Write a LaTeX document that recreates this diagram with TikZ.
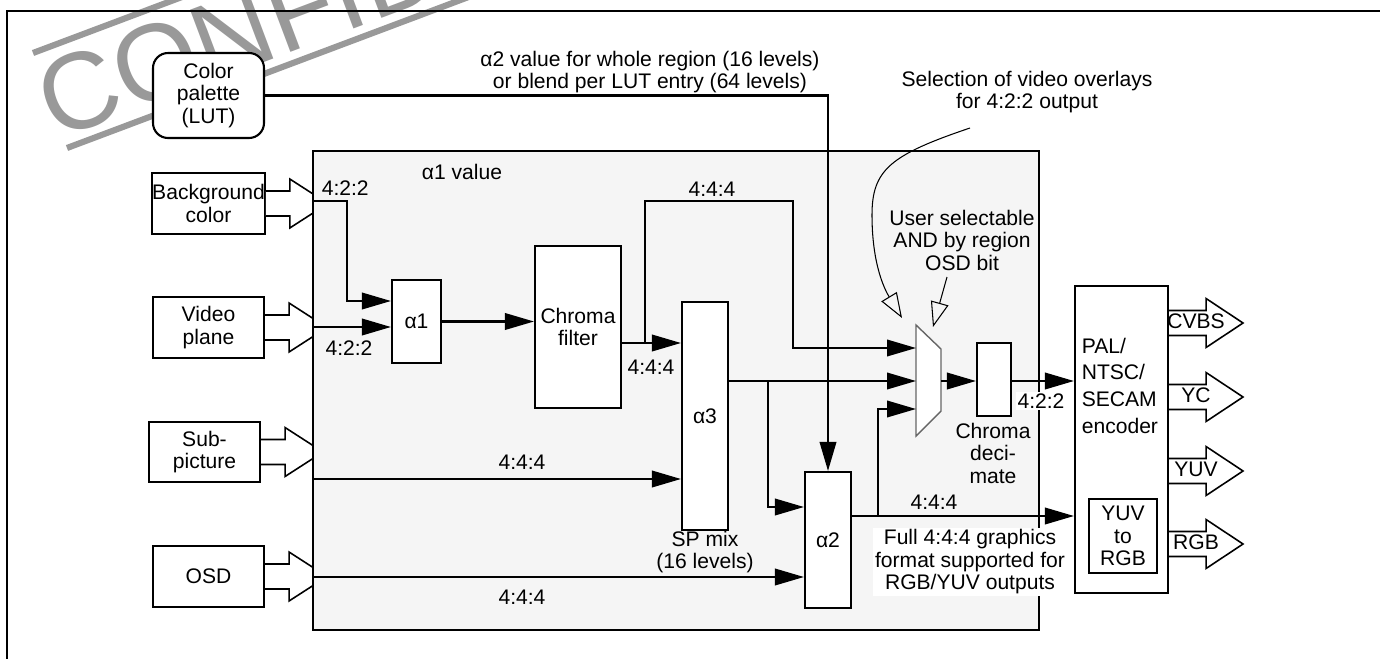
\documentclass[tikz,border=0pt]{standalone}
\usepackage{fontspec}
\setmainfont{Liberation Sans}
\usetikzlibrary{arrows.meta}

\begin{document}
\begin{tikzpicture}[x=0.02cm, y=-0.02cm, line width=1.2pt,
  >={Triangle[length=0.58cm, width=0.33cm]},
  font=\fontsize{12}{12.8}\selectfont,
  blk/.style={draw, rectangle, fill=white, inner sep=0pt, align=center},
  lbl/.style={inner sep=1pt, align=center},
  fat/.style={draw, fill=white, line width=0.9pt},
  note/.style={line width=0.6pt, -{Triangle[open, length=0.5cm, width=0.36cm]}}]
\useasboundingbox (0,0) rectangle (1380,659);

% watermark
\begin{scope}
\clip (0,0) rectangle (1380,659);
\draw[black!40, line width=3.5pt] (33,53) -- ++(936,-352);
\draw[black!40, line width=3.5pt] (67,148) -- ++(936,-352);
\node[black!40, rotate=20.6, anchor=base west, inner sep=0pt, font=\fontsize{62}{62}\selectfont] (stamp) at (55,141) {CONFIDENTIAL};
\end{scope}

% page frame
\draw (7,659) -- (7,11) -- (1380,11);

% sources
\node[blk, rounded corners=0.3cm, minimum width=2.22cm, minimum height=1.7cm] (pal) at (208.5,95.5) {Color\\palette\\(LUT)};
\node[blk, minimum width=2.22cm, minimum height=1.22cm] (bg) at (208.5,203.5) {Background\\color};
\node[blk, minimum width=2.22cm, minimum height=1.22cm] (video) at (208.5,327.5) {Video\\plane};
\node[blk, minimum width=2.22cm, minimum height=1.2cm] (sub) at (204.5,452) {Sub-\\picture};
\node[blk, minimum width=2.22cm, minimum height=1.22cm] (osd) at (208.5,576.5) {OSD};

\foreach \n in {bg,video,sub,osd}
  \draw[fat] (\n.east) ++(0,-12.5) -- ++(24,0) -- ++(0,-12) -- ++(38,24.5) -- ++(-38,24.5) -- ++(0,-12) -- ++(-24,0);

% mixer
\node[draw, fill=black!4, minimum width=14.52cm, minimum height=9.58cm, inner sep=0pt] (core) at (676,390.5) {};

\node[blk, minimum width=0.98cm, minimum height=1.66cm] (a1) at (416.5,321.5) {α1};
\node[blk, minimum width=1.72cm, minimum height=3.24cm] (chroma) at (578,327) {Chroma\\filter};
\node[blk, minimum width=0.92cm, minimum height=4.56cm] (a3) at (705,416) {α3};
\node[blk, minimum width=0.92cm, minimum height=2.72cm] (a2) at (828,540) {α2};
\node[blk, minimum width=0.68cm, minimum height=1.46cm] (dec) at (994,379.5) {};

\draw[draw=black!60, fill=white, line width=0.8pt] (916,325) -- (941,349) -- (941,411) -- (916,436) -- cycle;
\coordinate (m1) at (916,348);
\coordinate (m2) at (916,381);
\coordinate (m3) at (916,409);
\coordinate (mout) at (941,381);

% encoder
\node[blk, minimum width=1.86cm, minimum height=6.14cm] (enc) at (1121.5,439.5) {};
\node[blk, minimum width=1.36cm, minimum height=1.48cm] (yuv2rgb) at (1123,536) {YUV\\to\\RGB};
\node[lbl, anchor=north west, align=left, font=\fontsize{12}{15.3}\selectfont] (enctxt) at (1079,335) {PAL/\\NTSC/\\SECAM\\encoder};

% connectors
\coordinate (bgin) at (313,201);
\coordinate (vin) at (313,327);
\coordinate (sin) at (313,479);
\coordinate (oin) at (313,577);
\coordinate (cfj) at (645,343);
\coordinate (a3j) at (768,381);
\coordinate (a2j) at (878,516);

\draw[->] (bgin) -| (347,301) -- (a1.west |- 0,301);
\draw[->] (vin) -- (vin -| a1.west);
\draw[->] (a1.east) -- (a1.east -| chroma.west);
\draw[->] (chroma.east |- cfj) -- (a3.west |- cfj);
\draw[->] (cfj) |- (793,201) |- (m1);
\draw[->] (a3.east |- m2) -- (m2);
\draw[->] (a3j) |- (a2.west |- 0,507);
\draw[->] (sin) -- (sin -| a3.west);
\draw[->] (oin) -- (oin -| a2.west);
\draw[->] (a2.east |- a2j) -- (a2j -| enc.west);
\draw[->] (a2j) |- (m3);
\draw[->] (mout) -- (mout -| dec.west);
\draw[->] (dec.east |- mout) -- (mout -| enc.west);
\draw[->] (pal.east) -| (a2.north);

% outputs
\foreach \yy/\sig in {323/CVBS,397/YC,471/YUV,544/RGB}{
  \draw[fat] (enc.east |- 0,\yy) ++(0,-12.5) -- ++(37,0) -- ++(0,-12) -- ++(37,24.5) -- ++(-37,24.5) -- ++(0,-12) -- ++(-37,0);
  \node[lbl] (out\sig) at (1196,\yy-2) {\sig};
}

% labels
\node[lbl] (a1val) at (462,172) {α1 value};
\node[lbl, anchor=west] (fmtbg) at (319,188) {4:2:2};
\node[lbl] (fmtvid) at (349,348) {4:2:2};
\node[lbl] (fmtup) at (712,189) {4:4:4};
\node[lbl] (fmtcf) at (651,367) {4:4:4};
\node[lbl] (fmtsub) at (522,462) {4:4:4};
\node[lbl] (fmtosd) at (522,597) {4:4:4};
\node[lbl] (fmta2) at (934,502) {4:4:4};
\node[lbl, fill=white] (fmtdec) at (1041,401) {4:2:2};
\node[lbl] (spmix) at (705,552) {SP mix\\(16 levels)};
\node[lbl] (decname) at (993,453) {Chroma\\deci-\\mate};
\node[lbl, fill=white] (full) at (970,562) {Full 4:4:4 graphics\\format supported for\\RGB/YUV outputs};
\node[lbl] (a2note) at (650,72) {α2 value for whole region (16 levels)\\or blend per LUT entry (64 levels)};
\node[lbl] (selnote) at (1027,92) {Selection of video overlays\\for 4:2:2 output};
\node[lbl] (usrnote) at (962,240) {User selectable\\AND by region\\OSD bit};

% notes
\coordinate (selfrom) at (970,128);
\coordinate (muxleft) at (902,318);
\coordinate (usrfrom) at (947,277);
\coordinate (muxtop) at (933,327);
\draw[note] (selfrom) .. controls (890,155) and (872,170) .. (872,215) .. controls (872,265) and (885,290) .. (muxleft);
\draw[note] (usrfrom) -- (muxtop);
\end{tikzpicture}
\end{document}
